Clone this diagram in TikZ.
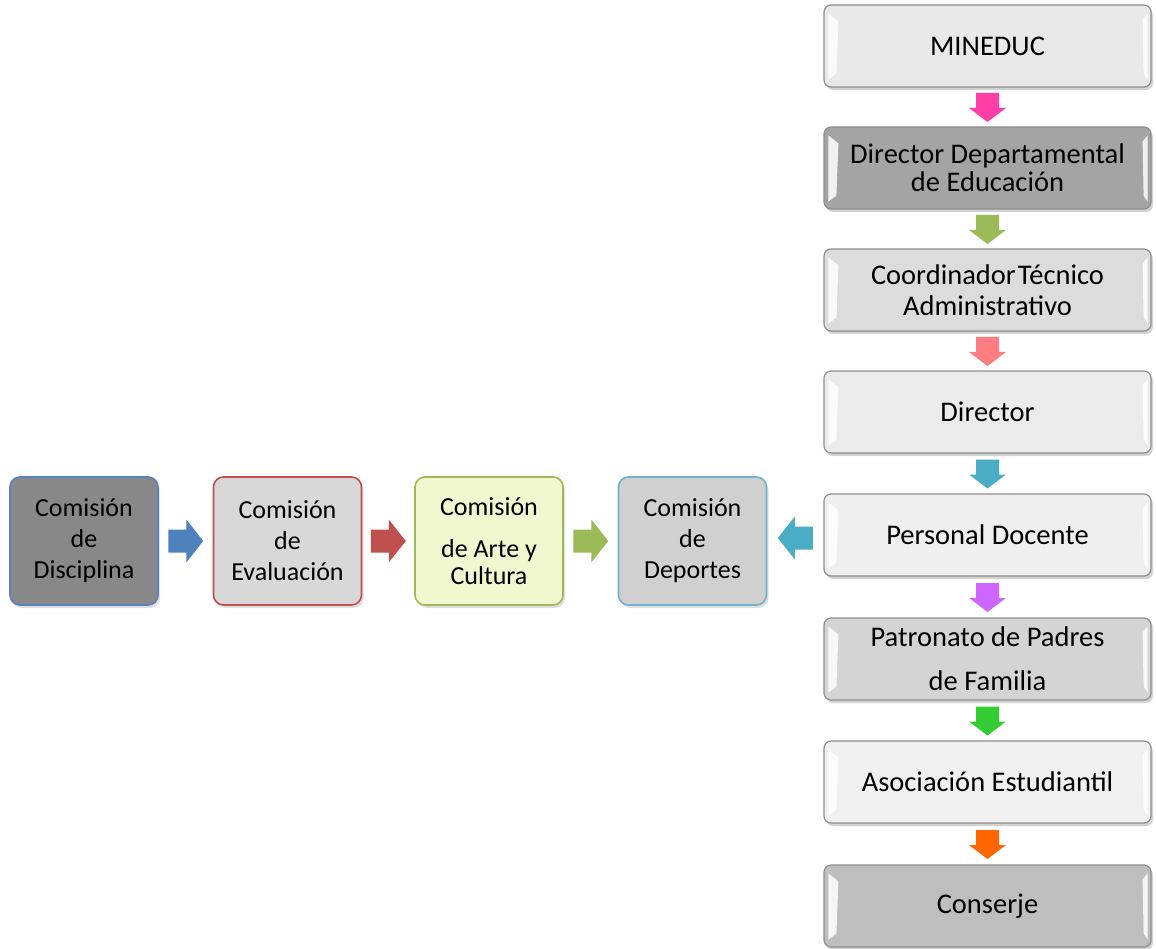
\documentclass[tikz,border=0pt]{standalone}
\usepackage{fontspec}
\setmainfont{Carlito}
\usetikzlibrary{calc,shadows}
\definecolor{rborder}{HTML}{8E8E8E}
\definecolor{cMin}{HTML}{E9E9E9}
\definecolor{cDDE}{HTML}{A4A4A4}
\definecolor{cCTA}{HTML}{DCDCDC}
\definecolor{cDir}{HTML}{EBEBEB}
\definecolor{cPD}{HTML}{EFEFEF}
\definecolor{cPat}{HTML}{D4D4D4}
\definecolor{cAso}{HTML}{F0F0F0}
\definecolor{cCon}{HTML}{BEBEBE}
\definecolor{cDis}{HTML}{888888}
\definecolor{bDis}{HTML}{5B80C0}
\definecolor{cEva}{HTML}{D8D8D8}
\definecolor{bEva}{HTML}{C0504D}
\definecolor{cArt}{HTML}{F1F8CF}
\definecolor{bArt}{HTML}{9BBB59}
\definecolor{cDep}{HTML}{D0D0D0}
\definecolor{bDep}{HTML}{6FB3CC}
\definecolor{aPink}{HTML}{FF3FA6}
\definecolor{aOlive}{HTML}{9BBB59}
\definecolor{aSalmon}{HTML}{FF7C80}
\definecolor{aTeal}{HTML}{4BACC6}
\definecolor{aPurple}{HTML}{CC66FF}
\definecolor{aGreen}{HTML}{33CC33}
\definecolor{aOrange}{HTML}{FF6600}
\definecolor{aBlue}{HTML}{4F81BD}
\definecolor{aRed}{HTML}{C0504D}
\newcommand\downarrowat[2]{%
  \fill[#2] ($(#1)+(-11.5,-14)$) -- ($(#1)+(11.5,-14)$) -- ($(#1)+(11.5,1)$)
    -- ($(#1)+(18.5,1)$) -- ($(#1)+(0,15)$) -- ($(#1)+(-18.5,1)$)
    -- ($(#1)+(-11.5,1)$) -- cycle;}
\newcommand\rightarrowat[2]{%
  \fill[#2] ($(#1)+(-17.5,-11.5)$) -- ($(#1)+(0.5,-11.5)$) -- ($(#1)+(0.5,-21.5)$)
    -- ($(#1)+(17.5,0)$) -- ($(#1)+(0.5,21.5)$) -- ($(#1)+(0.5,11.5)$)
    -- ($(#1)+(-17.5,11.5)$) -- cycle;}
\newcommand\leftarrowat[2]{%
  \fill[#2] ($(#1)+(17.5,-11.5)$) -- ($(#1)+(-0.5,-11.5)$) -- ($(#1)+(-0.5,-21.5)$)
    -- ($(#1)+(-17.5,0)$) -- ($(#1)+(-0.5,21.5)$) -- ($(#1)+(-0.5,11.5)$)
    -- ($(#1)+(17.5,11.5)$) -- cycle;}
\newcommand\bevelof[1]{%
  \fill[white, opacity=0.85] ($(#1.north west)+(5,9)$) -- ($(#1.north west)+(15,17)$)
    -- ($(#1.south west)+(13,-14)$) -- ($(#1.south west)+(5,-8)$) -- cycle;
  \fill[white, opacity=0.85] ($(#1.north east)+(-4,9)$) -- ($(#1.north east)+(-9,15)$)
    -- ($(#1.south east)+(-8,-14)$) -- ($(#1.south east)+(-4,-8)$) -- cycle;}
\begin{document}
\begin{tikzpicture}[x=1pt,y=-1pt,
  rbox/.style={draw=rborder, line width=1.2pt, rounded corners=7pt,
    minimum width=327pt, minimum height=82pt, inner sep=2pt, align=center,
    font=\fontsize{28.5}{31}\selectfont,
    drop shadow={opacity=0.35, shadow xshift=2pt, shadow yshift=-3pt}},
  lbox/.style={line width=1.6pt, rounded corners=10pt,
    minimum width=148pt, minimum height=128pt, inner sep=2pt, align=center,
    font=\fontsize{26}{31}\selectfont,
    drop shadow={opacity=0.25, shadow xshift=2pt, shadow yshift=-3pt}},
]
\fill[white] (0,0) rectangle (1156,949);
\useasboundingbox (0,0) rectangle (1156,949);

% right column
\node[rbox, fill=cMin] (min) at (987.5,46) {MINEDUC};
\node[rbox, fill=cDDE, font=\fontsize{28.5}{28}\selectfont] (dde) at (987.5,168) {Director Departamental\\de Educación};
\node[rbox, fill=cCTA] (cta) at (987.5,290) {Coordinador\hspace{-0.15em} Técnico\\Administrativo};
\node[rbox, fill=cDir] (dir) at (987.5,412) {Director};
\node[rbox, fill=cPD] (pd) at (987.5,535) {Personal Docente};
\node[rbox, fill=cPat] (pat) at (987.5,659) {Patronato de Padres\\[13pt]de Familia};
\node[rbox, fill=cAso] (aso) at (987.5,782) {Asociación Estudiantil};
\node[rbox, fill=cCon] (con) at (987.5,906) {Conserje};

% left row
\node[lbox, draw=bDis, fill=cDis] (dis) at (84,541) {Comisión\\de\\Disciplina};
\node[lbox, draw=bEva, fill=cEva] (eva) at (287.5,541) {Comisión\\de\\Evaluación};
\node[lbox, draw=bArt, fill=cArt] (art) at (489,541) {Comisión\\[11pt]de Arte y\\[-4pt]Cultura};
\node[lbox, draw=bDep, fill=cDep] (dep) at (692.5,541) {Comisión\\de\\Deportes};

% bevel highlights
\bevelof{min}\bevelof{dde}\bevelof{cta}\bevelof{dir}
\bevelof{pd}\bevelof{pat}\bevelof{aso}\bevelof{con}

% vertical arrows
\coordinate (m1) at ($(min.south)!0.5!(dde.north)$);
\coordinate (m2) at ($(dde.south)!0.5!(cta.north)$);
\coordinate (m3) at ($(cta.south)!0.5!(dir.north)$);
\coordinate (m4) at ($(dir.south)!0.5!(pd.north)$);
\coordinate (m5) at ($(pd.south)!0.5!(pat.north)$);
\coordinate (m6) at ($(pat.south)!0.5!(aso.north)$);
\coordinate (m7) at ($(aso.south)!0.5!(con.north)$);
\downarrowat{m1}{aPink}
\downarrowat{m2}{aOlive}
\downarrowat{m3}{aSalmon}
\downarrowat{m4}{aTeal}
\downarrowat{m5}{aPurple}
\downarrowat{m6}{aGreen}
\downarrowat{m7}{aOrange}

% horizontal arrows
\coordinate (h1) at ($(dis.east)!0.5!(eva.west)$);
\coordinate (h2) at ($(eva.east)!0.5!(art.west)$);
\coordinate (h3) at ($(art.east)!0.5!(dep.west)$);
\coordinate (h4) at ($(dep.east)!0.5!(pd.west)$);
\rightarrowat{h1}{aBlue}
\rightarrowat{h2}{aRed}
\rightarrowat{h3}{aOlive}
\leftarrowat{h4}{aTeal}
\end{tikzpicture}
\end{document}
